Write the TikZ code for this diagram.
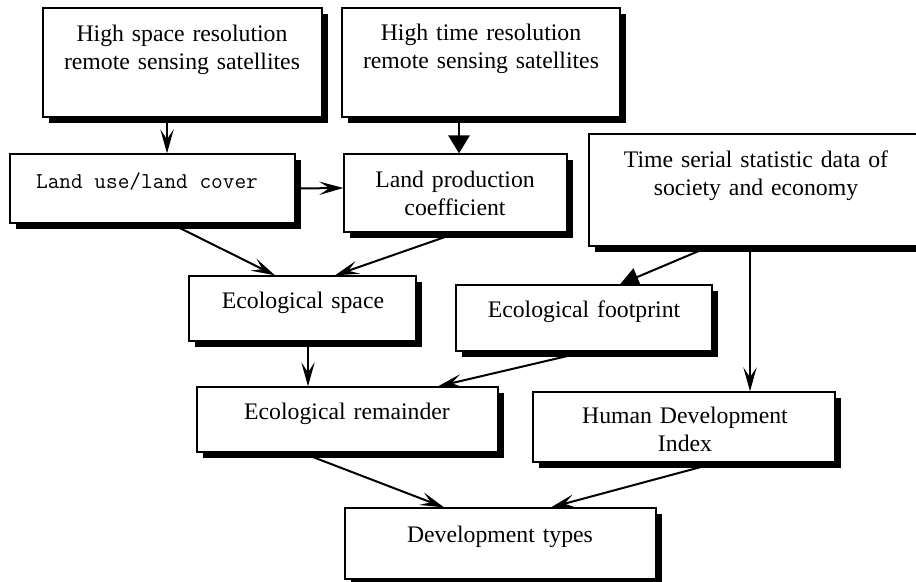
\documentclass[tikz,border=0pt]{standalone}
\usepackage{fontspec}
\setmainfont{Liberation Serif}
\usetikzlibrary{arrows.meta,shadows,calc}
\tikzset{
  bx/.style={draw, fill=white, line width=1pt, inner sep=0pt,
    drop shadow={shadow xshift=4.5pt, shadow yshift=-4.5pt, fill=black, opacity=1}},
  lbl/.style={anchor=base, inner sep=0pt, text width=250pt, align=center,
    font=\fontsize{17.8pt}{21pt}\selectfont},
  monolbl/.style={anchor=base, inner sep=0pt, font=\fontsize{17pt}{21pt}\selectfont\ttfamily},
  arr/.style={line width=1.5pt, -{Stealth[length=18pt,width=10pt,inset=7.5pt]}},
  tri/.style={line width=1.5pt, -{Triangle[length=13.5pt,width=16pt]}},
  trib/.style={line width=1.5pt, -{Triangle[length=14pt,width=14pt]}}
}
\begin{document}
\begin{tikzpicture}[x=0.75pt,y=-0.75pt]
\useasboundingbox (0,0) rectangle (916,581);
\clip (0,0) rectangle (916,581);
% boxes
\node[bx, minimum width=209.25pt, minimum height=81.75pt] (b1) at (182.5,62.5) {};
\node[bx, minimum width=208.5pt, minimum height=81.75pt] (b2) at (481,62.5) {};
\node[bx, minimum width=213.75pt, minimum height=51.75pt] (b3) at (152.5,188.5) {};
\node[bx, minimum width=167.25pt, minimum height=58.5pt] (b4) at (455.5,193) {};
\node[bx, minimum width=259.5pt, minimum height=84pt] (b5) at (762,190) {};
\node[bx, minimum width=170.25pt, minimum height=48.75pt] (b6) at (302.5,308.5) {};
\node[bx, minimum width=192pt, minimum height=49.5pt] (b7) at (584,318) {};
\node[bx, minimum width=225.75pt, minimum height=48.75pt] (b8) at (347.5,419.5) {};
\node[bx, minimum width=226.5pt, minimum height=52.5pt] (b9) at (684,427) {};
\node[bx, minimum width=233.25pt, minimum height=53.25pt] (b10) at (500.5,543.5) {};
% labels
\node[lbl] (t1) at (182,42) {High space resolution\\remote sensing satellites};
\node[lbl] (t2) at (481,41) {High time resolution\\remote sensing satellites};
\node[monolbl] (t3) at (147,188) {Land use/land cover};
\node[lbl] (t4) at (455,187) {Land production\\coefficient};
\node[lbl] (t5) at (756,167) {Time serial statistic data of\\society and economy};
\node[lbl] (t6) at (303,308) {Ecological space};
\node[lbl] (t7) at (584,317) {Ecological footprint};
\node[lbl] (t8) at (347,419) {Ecological remainder};
\node[lbl] (t9) at (685,423) {Human Development\\Index};
\node[lbl] (t10) at (500,542) {Development types};
% connectors
\draw[arr] ($(b1.south)+(-15.5,0)$) -- ($(b3.north)+(14.5,0)$);
\draw[tri] ($(b2.south)+(-22,0)$) -- ($(b4.north)+(3.5,0)$);
\draw[arr] (b3.east) -- ($(b4.west)+(0,-5)$);
\draw[arr] ($(b3.south)+(18.5,0)$) -- ($(b6.north)+(-27.5,0)$);
\draw[arr] ($(b4.south)+(2,0)$) -- ($(b6.north)+(32.5,0)$);
\draw[trib] ($(b5.south)+(-53,0)$) -- ($(b7.north)+(36,0)$);
\draw[arr] ($(b5.south)+(-12,0)$) -- ($(b9.north)+(66,0)$);
\draw[arr] ($(b6.south)+(5.5,0)$) -- ($(b8.north)+(-39.5,0)$);
\draw[arr] ($(b7.south)+(2,0)$) -- ($(b8.north)+(90.5,0)$);
\draw[arr] ($(b8.south)+(-46,0)$) -- ($(b10.north)+(-56.5,0)$);
\draw[arr] ($(b9.south)+(33,0)$) -- ($(b10.north)+(50.5,0)$);
\end{tikzpicture}
\end{document}
